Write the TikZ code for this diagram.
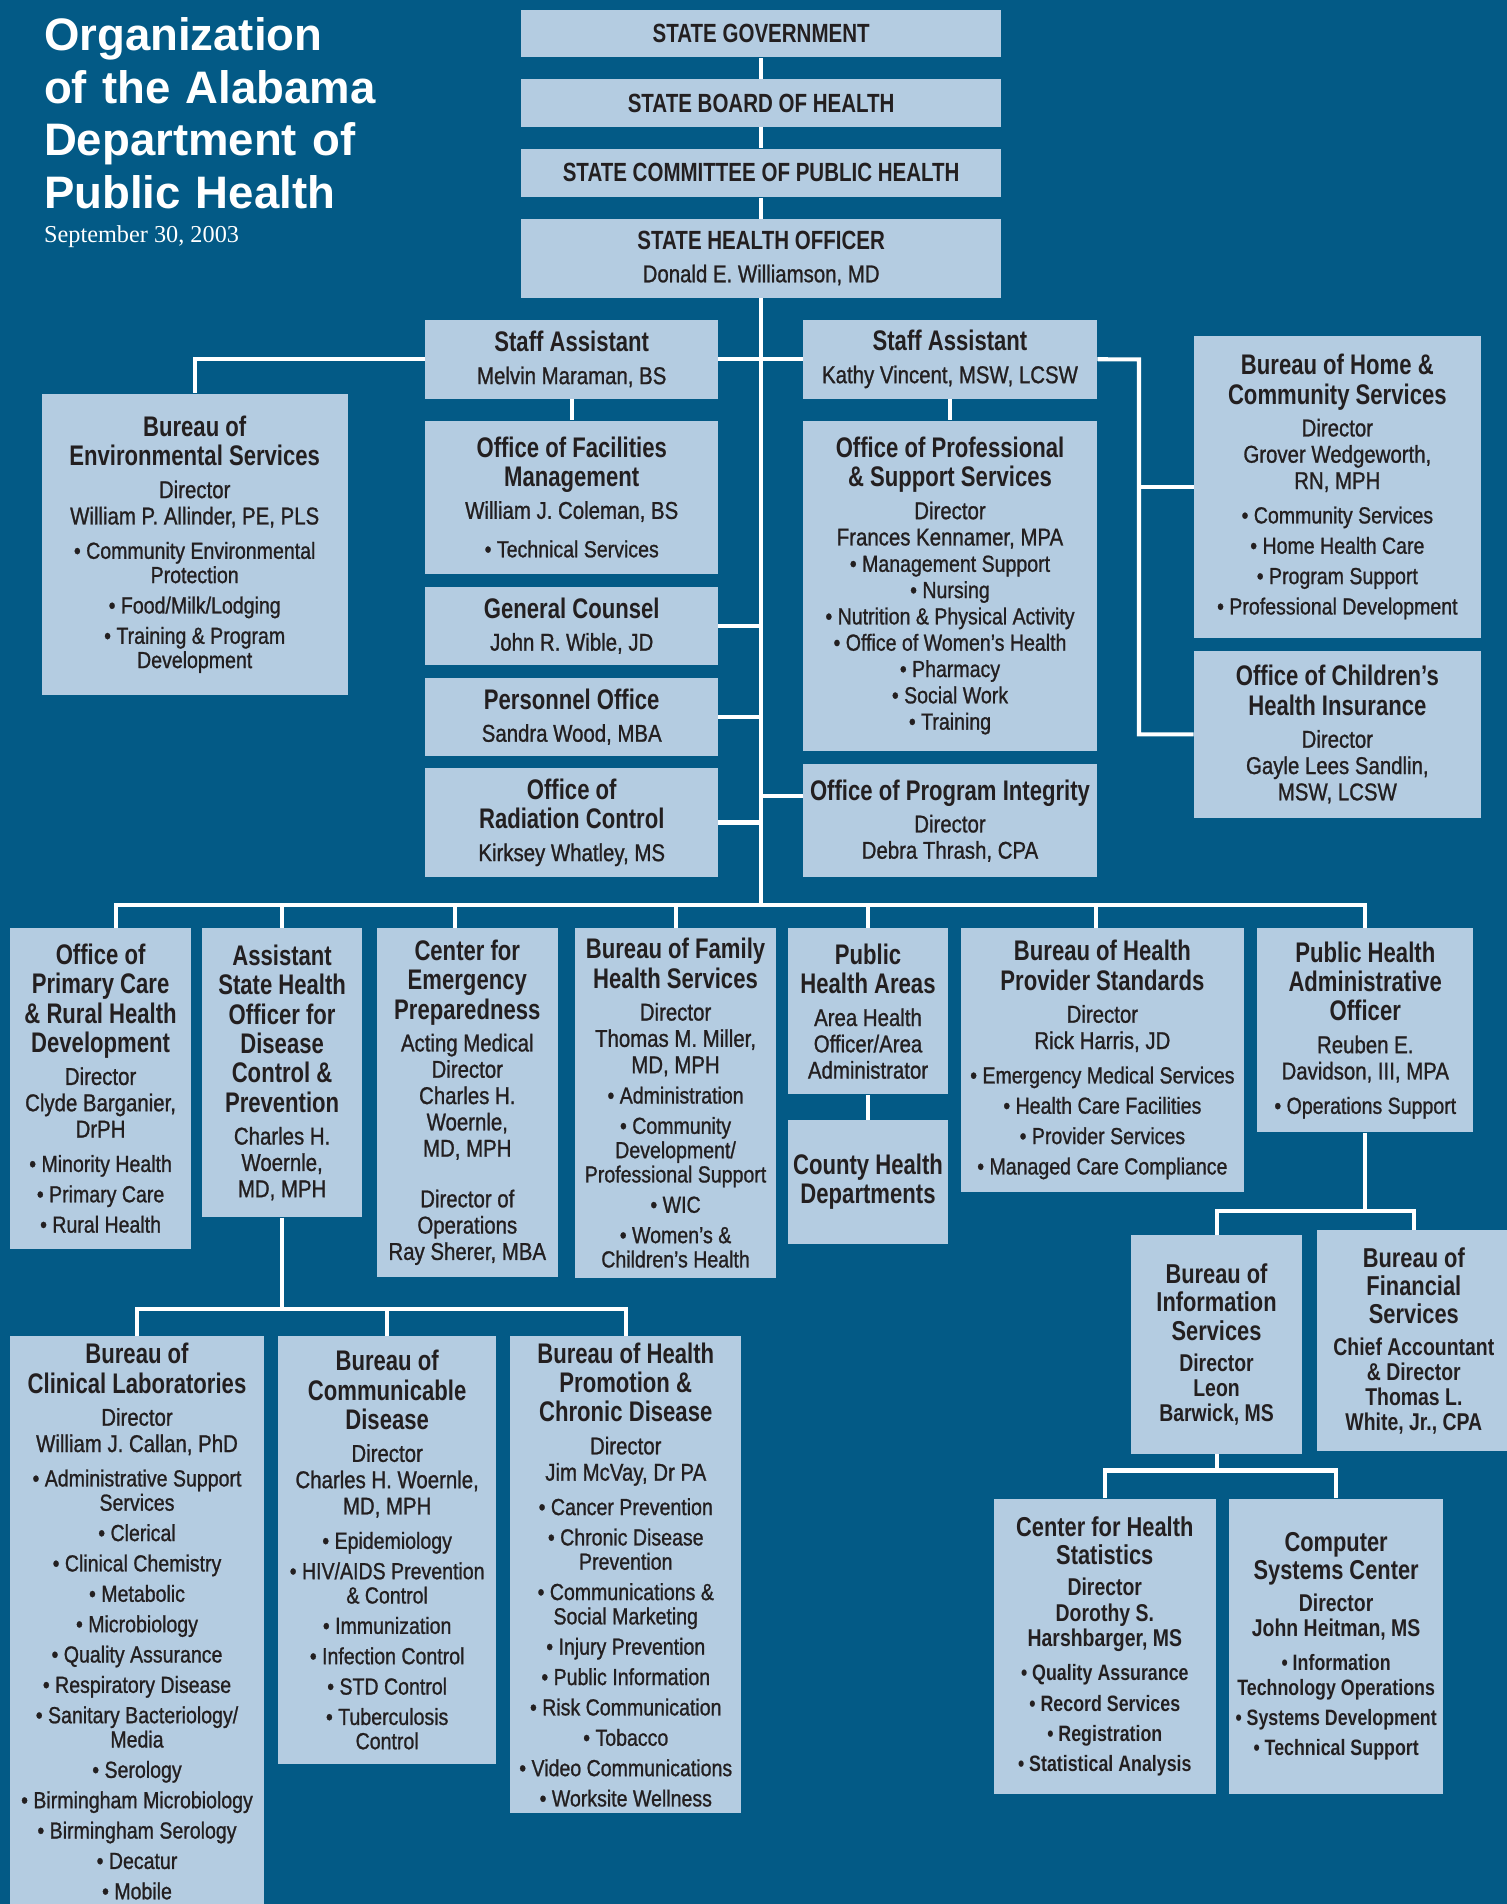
\documentclass[tikz,border=0pt]{standalone}
\usepackage{fontspec}
\setmainfont{Liberation Sans}
\newfontfamily\bodyfamily{Liberation Sans}[FakeStretch=0.84,FakeBold=1.0]
\newfontfamily\headfamily{Liberation Sans}[FakeStretch=0.78]
\newfontfamily\widefamily{Liberation Sans}[FakeStretch=0.8]
\newfontfamily\titlefamily{Liberation Sans}
\newfontfamily\datefamily{Liberation Serif}

\definecolor{bgblue}{HTML}{035A86}
\definecolor{boxblue}{HTML}{B4CCE1}
\definecolor{ink}{HTML}{231F20}

\setlength{\parindent}{0pt}
\newlength{\blgap}
\setlength{\blgap}{3pt}

% text blocks inside the boxes
\newcommand{\hdfont}{\headfamily\bfseries\fontsize{14}{14.5}\selectfont}
\newcommand{\nmfont}{\bodyfamily\fontsize{12}{13}\selectfont}
\newcommand{\blfont}{\bodyfamily\fontsize{11.5}{12}\selectfont}
\newcommand{\tp}[1]{{\headfamily\bfseries\fontsize{13}{14}\selectfont #1\par}}
\newcommand{\hd}[1]{{\hdfont #1\par}}
\newcommand{\nm}[1]{\vspace{3pt}{\nmfont #1\par}}
\newcommand{\bl}[1]{\vspace{\blgap}{\blfont • #1\par}}
\newcommand{\widetext}{%
  \renewcommand{\hdfont}{\widefamily\bfseries\fontsize{13.5}{14}\selectfont}%
  \renewcommand{\nmfont}{\widefamily\bfseries\fontsize{12}{12.5}\selectfont}%
  \renewcommand{\blfont}{\widefamily\bfseries\fontsize{11}{12}\selectfont}}

\begin{document}
\begin{tikzpicture}[x=0.6pt, y=-0.6pt,
    orgbox/.style={fill=boxblue, text=ink, anchor=north west, inner sep=0pt, align=flush center},
    bx/.code 2 args={\pgfmathsetlengthmacro\bxw{#1*0.6}\pgfmathsetlengthmacro\bxh{#2*0.6}%
      \tikzset{text width=\bxw, minimum height=\bxh}},
    wide/.style={execute at begin node=\widetext},
    link/.style={draw=white, line width=2pt}]
  \useasboundingbox (0,0) rectangle (1241,1568);
  \fill[bgblue] (0,0) rectangle (1241,1568);

  \node[anchor=north west, inner sep=0pt, text=white, text width=200pt, align=left,
    font=\titlefamily\bfseries\fontsize{22.5}{26}\selectfont] (title) at (36,14)
    {Organization\\of the Alabama\\Department of\\Public Health};
  \node[anchor=base west, inner sep=0pt, text=white, font=\datefamily\fontsize{12}{14}\selectfont]
    (date) at (36,200) {September 30, 2003};

  % top of the chart
  \node[orgbox, bx={395}{39}] (gov) at (429,8) {\tp{STATE GOVERNMENT}};
  \node[orgbox, bx={395}{39}] (board) at (429,65) {\tp{STATE BOARD OF HEALTH}};
  \node[orgbox, bx={395}{40}] (cmte) at (429,122) {\tp{STATE COMMITTEE OF PUBLIC HEALTH}};
  \node[orgbox, bx={395}{65}] (sho) at (429,180) {\tp{STATE HEALTH OFFICER}\nm{Donald E. Williamson, MD}};

  \node[orgbox, bx={241}{65}] (sa1) at (350,263) {\hd{Staff Assistant}\nm{Melvin Maraman, BS}};
  \node[orgbox, bx={242}{65}] (sa2) at (661,263) {\hd{Staff Assistant}\nm{Kathy Vincent, MSW, LCSW}};

  \node[orgbox, bx={252}{248}] (env) at (34,324) {\hd{Bureau of\\Environmental Services}%
    \nm{Director\\William P. Allinder, PE, PLS}\vspace{2pt}%
    \bl{Community Environmental\\Protection}\bl{Food/Milk/Lodging}\bl{Training \& Program\\Development}};
  \node[orgbox, bx={241}{126}] (fac) at (350,346) {\hd{Office of Facilities\\Management}%
    \nm{William J. Coleman, BS}\vspace{4pt}\bl{Technical Services}};
  \node[orgbox, bx={241}{64}] (gc) at (350,483) {\hd{General Counsel}\nm{John R. Wible, JD}};
  \node[orgbox, bx={241}{64}] (pers) at (350,558) {\hd{Personnel Office}\nm{Sandra Wood, MBA}};
  \node[orgbox, bx={241}{90}] (rad) at (350,632) {\hd{Office of\\Radiation Control}\nm{Kirksey Whatley, MS}};

  \node[orgbox, bx={242}{272}] (pss) at (661,346) {\setlength{\blgap}{1pt}%
    \hd{Office of Professional\\\& Support Services}\nm{Director\\Frances Kennamer, MPA}%
    \bl{Management Support}\bl{Nursing}\bl{Nutrition \& Physical Activity}%
    \bl{Office of Women’s Health}\bl{Pharmacy}\bl{Social Work}\bl{Training}};
  \node[orgbox, bx={242}{93}] (integ) at (661,629) {\hd{Office of Program Integrity}\nm{Director\\Debra Thrash, CPA}};

  \node[orgbox, bx={236}{249}] (home) at (983,276) {\hd{Bureau of Home \&\\Community Services}%
    \nm{Director\\Grover Wedgeworth,\\RN, MPH}\vspace{2pt}%
    \bl{Community Services}\bl{Home Health Care}\bl{Program Support}\bl{Professional Development}};
  \node[orgbox, bx={236}{137}] (chip) at (983,536) {\hd{Office of Children’s\\Health Insurance}%
    \nm{Director\\Gayle Lees Sandlin,\\MSW, LCSW}};

  % divisions under the state health officer
  \node[orgbox, bx={149}{264}] (prim) at (8,764) {\hd{Office of\\Primary Care\\\& Rural Health\\Development}%
    \nm{Director\\Clyde Barganier,\\DrPH}\vspace{2pt}\bl{Minority Health}\bl{Primary Care}\bl{Rural Health}};
  \node[orgbox, bx={132}{238}] (ashod) at (166,764) {\hd{Assistant\\State Health\\Officer for\\Disease\\Control \&\\Prevention}%
    \nm{Charles H.\\Woernle,\\MD, MPH}};
  \node[orgbox, bx={149}{287}] (cep) at (310,764) {\hd{Center for\\Emergency\\Preparedness}%
    \nm{Acting Medical\\Director\\Charles H.\\Woernle,\\MD, MPH}\vspace{9pt}%
    \nm{Director of\\Operations\\Ray Sherer, MBA}};
  \node[orgbox, bx={166}{288}] (fhs) at (473,764) {\hd{Bureau of Family\\Health Services}%
    \nm{Director\\Thomas M. Miller,\\MD, MPH}\bl{Administration}%
    \bl{Community\\Development/\\Professional Support}\bl{WIC}\bl{Women’s \&\\Children’s Health}};
  \node[orgbox, bx={131}{137}] (pha) at (649,764) {\hd{Public\\Health Areas}\nm{Area Health\\Officer/Area\\Administrator}};
  \node[orgbox, bx={131}{102}] (chd) at (649,922) {\hd{County Health\\Departments}};
  \node[orgbox, bx={233}{217}] (hps) at (791,764) {\hd{Bureau of Health\\Provider Standards}%
    \nm{Director\\Rick Harris, JD}\vspace{2pt}%
    \bl{Emergency Medical Services}\bl{Health Care Facilities}\bl{Provider Services}\bl{Managed Care Compliance}};
  \node[orgbox, bx={178}{168}] (phao) at (1035,764) {\hd{Public Health\\Administrative\\Officer}%
    \nm{Reuben E.\\Davidson, III, MPA}\vspace{2pt}\bl{Operations Support}};

  % disease control bureaus
  \node[orgbox, bx={209}{470}] (clab) at (8,1100) {\hd{Bureau of\\Clinical Laboratories}%
    \nm{Director\\William J. Callan, PhD}\vspace{2pt}%
    \bl{Administrative Support\\Services}\bl{Clerical}\bl{Clinical Chemistry}\bl{Metabolic}%
    \bl{Microbiology}\bl{Quality Assurance}\bl{Respiratory Disease}\bl{Sanitary Bacteriology/\\Media}%
    \bl{Serology}\bl{Birmingham Microbiology}\bl{Birmingham Serology}\bl{Decatur}\bl{Mobile}};
  \node[orgbox, bx={179}{352}] (cdis) at (229,1100) {\hd{Bureau of\\Communicable\\Disease}%
    \nm{Director\\Charles H. Woernle,\\MD, MPH}\vspace{2pt}%
    \bl{Epidemiology}\bl{HIV/AIDS Prevention\\\& Control}\bl{Immunization}\bl{Infection Control}%
    \bl{STD Control}\bl{Tuberculosis\\Control}};
  \node[orgbox, bx={190}{393}] (hpcd) at (420,1100) {\hd{Bureau of Health\\Promotion \&\\Chronic Disease}%
    \nm{Director\\Jim McVay, Dr PA}\vspace{2pt}%
    \bl{Cancer Prevention}\bl{Chronic Disease\\Prevention}\bl{Communications \&\\Social Marketing}%
    \bl{Injury Prevention}\bl{Public Information}\bl{Risk Communication}\bl{Tobacco}%
    \bl{Video Communications}\bl{Worksite Wellness}};

  % administrative side
  \node[orgbox, wide, bx={141}{180}] (info) at (931,1017) {\hd{Bureau of\\Information\\Services}%
    \nm{Director\\Leon\\Barwick, MS}};
  \node[orgbox, wide, bx={160}{182}] (fin) at (1084,1013) {\hd{Bureau of\\Financial\\Services}%
    \nm{Chief Accountant\\\& Director\\Thomas L.\\White, Jr., CPA}};
  \node[orgbox, wide, bx={183}{243}] (chs) at (818,1234) {\hd{Center for Health\\Statistics}%
    \nm{Director\\Dorothy S.\\Harshbarger, MS}\vspace{2pt}%
    \bl{Quality Assurance}\bl{Record Services}\bl{Registration}\bl{Statistical Analysis}};
  \node[orgbox, wide, bx={176}{243}] (csc) at (1012,1234) {\hd{Computer\\Systems Center}%
    \nm{Director\\John Heitman, MS}\vspace{2pt}%
    \bl{Information\\Technology Operations}\bl{Systems Development}\bl{Technical Support}};

  % connectors
  \coordinate (bus) at (626,745);
  \coordinate (rail) at (938,296);
  \coordinate (bus2) at (232,1078);
  \coordinate (bus3) at (1126,997);
  \coordinate (bus4) at (1001,1211);
  \coordinate (integlink) at ([yshift=12.3pt]integ.west);
  \coordinate (primtop) at ([xshift=7.5pt]prim.north);
  \coordinate (ceptop) at ([xshift=-6pt]cep.north);
  \coordinate (hpstop) at ([xshift=-3.3pt]hps.north);

  \draw[link] (gov.south) -- (board.north);
  \draw[link] (board.south) -- (cmte.north);
  \draw[link] (cmte.south) -- (sho.north);
  \draw[link] (sho.south) -- (sho.south |- bus);
  \draw[link] (sa1.east) -- (sa2.west);
  \draw[link] (sa1.west) -| (env.north);
  \draw[link] (sa1.south) -- (fac.north);
  \draw[link] (sa2.south) -- (pss.north);
  \draw[link] (sa2.east) -- (rail) |- (chip.west);
  \draw[link] (home.west) -- (home.west -| rail);
  \foreach \b in {gc, pers, rad}
    \draw[link] (\b.east) -- (\b.east -| sho.south);
  \draw[link] (integlink) -- (integlink -| sho.south);

  \draw[link] (primtop) |- (bus);
  \draw[link] (phao.north) |- (bus);
  \foreach \b in {ashod.north, ceptop, fhs.north, pha.north, hpstop}
    \draw[link] (\b) -- (\b |- bus);
  \draw[link] (pha.south) -- (chd.north);

  \draw[link] (ashod.south) -- (ashod.south |- bus2);
  \draw[link] (clab.north) |- (bus2);
  \draw[link] (hpcd.north) |- (bus2);
  \draw[link] (cdis.north) -- (cdis.north |- bus2);

  \draw[link] (phao.south) -- (phao.south |- bus3);
  \draw[link] (info.north) |- (bus3);
  \draw[link] (fin.north) |- (bus3);
  \draw[link] (info.south) -- (info.south |- bus4);
  \draw[link] (chs.north) |- (bus4);
  \draw[link] (csc.north) |- (bus4);
\end{tikzpicture}
\end{document}
